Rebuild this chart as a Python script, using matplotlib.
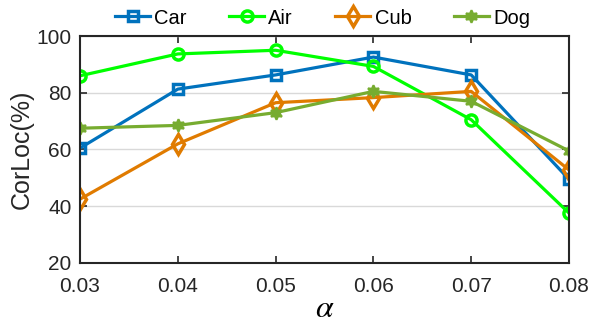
import matplotlib
matplotlib.use("Agg")
import matplotlib.pyplot as plt

alpha = [0.03, 0.04, 0.05, 0.06, 0.07, 0.08]
car = [60.5, 81.3, 86.3, 92.6, 86.3, 49.5]
air = [86.0, 93.7, 95.0, 89.3, 70.5, 37.6]
cub = [42.5, 62.0, 76.5, 78.3, 80.5, 52.8]
dog = [67.5, 68.5, 73.0, 80.5, 77.0, 59.5]
yticks = [20, 40, 60, 80, 100]

plt.rcParams["font.family"] = ["Liberation Sans", "DejaVu Sans"]
plt.rcParams.update({"font.size": 15, "mathtext.fontset": "stix"})

fig = plt.figure(figsize=(5.93, 3.25), dpi=100)
ax = fig.add_axes([0.135, 0.191, 0.8245, 0.698])

ax.plot(alpha, car, color="#0072BD", lw=2.3, marker="s", ms=7.5, mfc="none", mew=2.5, label="Car")
ax.plot(alpha, air, color="#00FF00", lw=2.3, marker="o", ms=8, mfc="none", mew=2.5, label="Air")
ax.plot(alpha, cub, color="#E07B00", lw=2.3, marker="d", ms=10, mfc="none", mew=2.5, label="Cub")
ax.plot(alpha, dog, color="#77AC30", lw=2.3, marker=(6, 1, 0), ms=9, mew=1.5, label="Dog")

ax.set_xlim(0.03, 0.08)
ax.set_ylim(20, 100)
ax.set_xticks(alpha)
ax.set_xticklabels(["%.2f" % a for a in alpha])
ax.set_yticks(yticks)
ax.yaxis.grid(True, color="#d9d9d9", lw=1)
ax.set_axisbelow(True)
ax.tick_params(direction="in", top=True, right=True, length=5, width=1.2,
               colors="#262626", labelsize=15)
ax.tick_params(axis="x", pad=10)
ax.tick_params(axis="y", pad=6)
for s in ax.spines.values():
    s.set_linewidth(1.5)
    s.set_color("#262626")

ax.set_ylabel("CorLoc(%)", fontsize=18, color="#262626", labelpad=2)
ax.set_xlabel(r"$\alpha$", fontsize=23, labelpad=-1)

fig.legend(handles=ax.get_lines(), loc="center left",
           bbox_to_anchor=(115 / 593, 1 - 18 / 325), ncol=4, frameon=False,
           fontsize=14.5, handlelength=1.75, handletextpad=0.2, columnspacing=2.1,
           borderpad=0, borderaxespad=0)

fig.savefig("out.png", dpi=100)
